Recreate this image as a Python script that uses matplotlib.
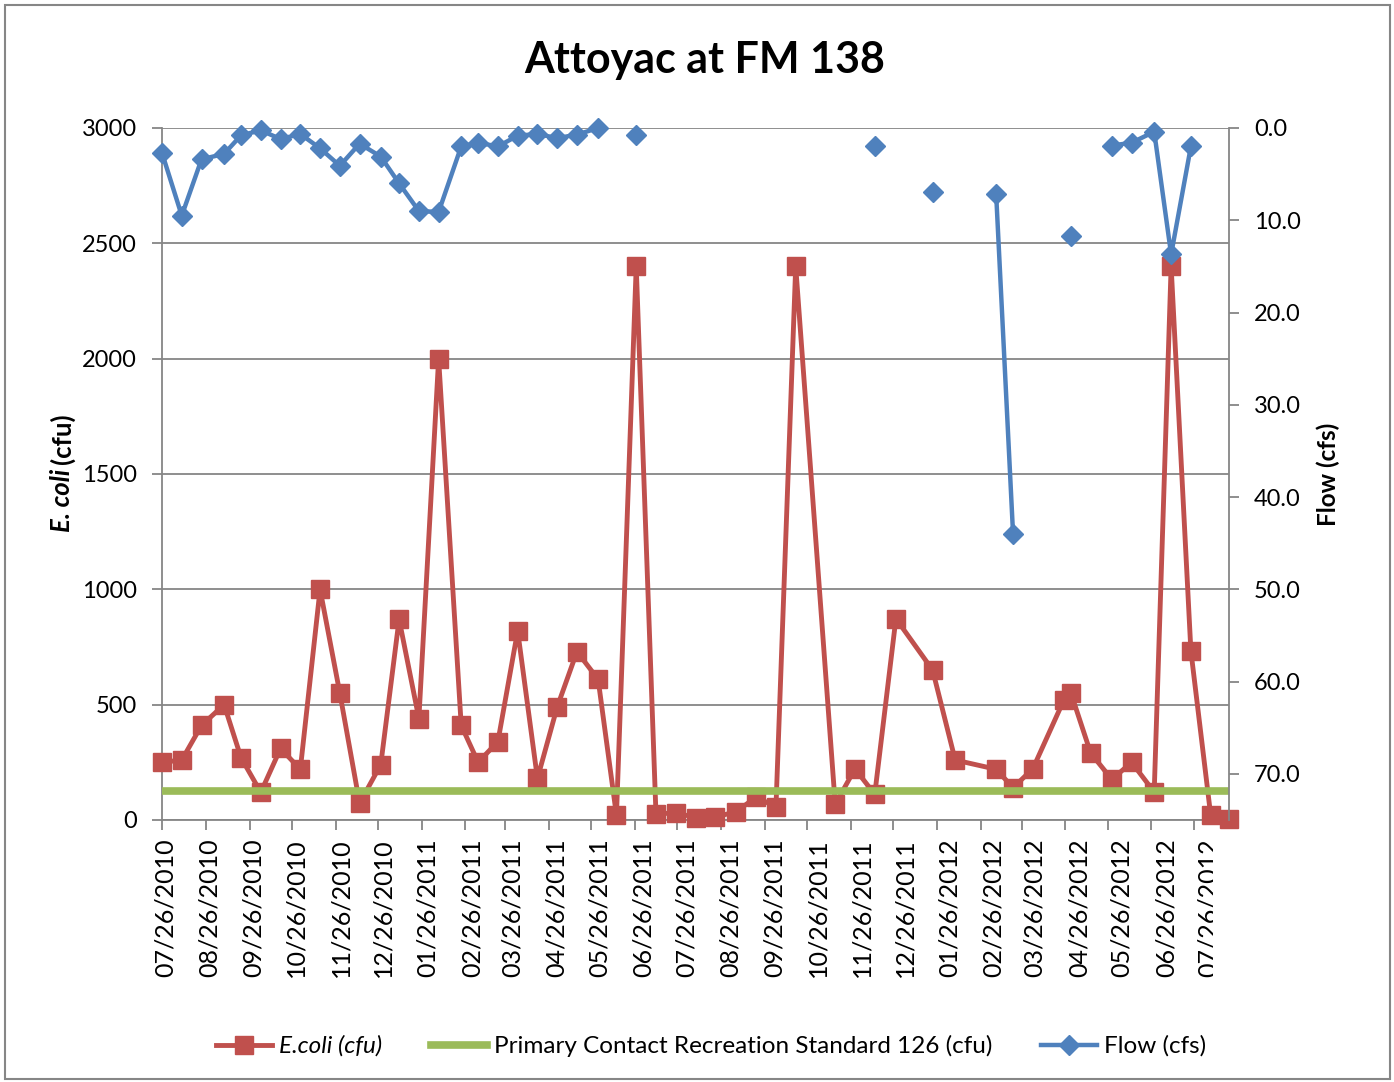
import numpy as np
import matplotlib
matplotlib.use("Agg")
import matplotlib.pyplot as plt
import matplotlib.dates as mdates
from matplotlib.lines import Line2D
from matplotlib.patches import Rectangle
from matplotlib.ticker import FormatStrFormatter
from matplotlib.transforms import Bbox, TransformedBbox, ScaledTranslation
from datetime import datetime

plt.rcParams['font.family'] = ['Lato', 'DejaVu Sans']

# sampling dates
sample_dates = [
    "2010-07-26", "2010-08-09", "2010-08-23", "2010-09-08", "2010-09-20", "2010-10-04",
    "2010-10-18", "2010-11-01", "2010-11-15", "2010-11-29", "2010-12-13", "2010-12-28",
    "2011-01-10", "2011-01-24", "2011-02-07", "2011-02-23", "2011-03-07", "2011-03-21",
    "2011-04-04", "2011-04-18", "2011-05-02", "2011-05-16", "2011-05-31", "2011-06-13",
    "2011-06-27", "2011-07-11", "2011-07-25", "2011-08-08", "2011-08-22", "2011-09-06",
    "2011-09-20", "2011-10-04", "2011-10-18", "2011-11-15", "2011-11-29", "2011-12-13",
    "2011-12-28", "2012-01-23", "2012-02-08", "2012-03-08", "2012-03-20", "2012-04-03",
    "2012-04-25", "2012-04-30", "2012-05-14", "2012-05-29", "2012-06-12", "2012-06-28",
    "2012-07-10", "2012-07-24", "2012-08-07", "2012-08-20",
]

ecoli = [
    250, 260, 410, 500, 270, 120, 310, 220, 1000, 550, 73, 240,
    870, 440, 2000, 410, 250, 340, 820, 180, 490, 730, 610, 20,
    2400, 25, 32, 10, 13, 36, 100, 56, 2400, 68, 222, 111,
    873, 650, 260, 220, 140, 222, 520, 550, 290, 176, 250, 121,
    2400, 733, 22, 5,
]

flow = [
    2.7, 9.5, 3.4, 2.8, 0.8, 0.25, 1.2, 0.65, 2.2, 4.1, 1.7, 3.1,
    6.0, 9.0, 9.1, 2.0, 1.6, 2.0, 0.83, 0.65, 1.1, 0.72, 0.0, None,
    0.72, None, None, None, None, None, None, None, None, None, None, 1.9,
    None, 6.9, None, 7.1, 44.0, None, None, 11.7, None, 1.9, 1.6, 0.4,
    13.7, 2.0, None, None,
]

standard = 126

red = '#C0504D'
green = '#9BBB59'
blue = '#4F81BD'
gray = '#868686'

dates = [datetime.strptime(d, "%Y-%m-%d") for d in sample_dates]
flow_arr = np.array([np.nan if v is None else v for v in flow], dtype=float)

W, H = 1394, 1082
fig = plt.figure(figsize=(W / 100, H / 100), dpi=100)
ax = fig.add_axes([162 / W, 1 - 820 / H, (1229 - 162) / W, 692 / H])
ax2 = ax.twinx()

ax.plot(dates, ecoli, color=red, lw=3.5, marker='s', ms=13.5, zorder=3, clip_on=False)
ax.axhline(standard, color=green, lw=5.5, zorder=4)
ax2.plot(dates, flow_arr, color=blue, lw=3.2, marker='D', ms=10, zorder=5, clip_on=False)

ax.set_xlim(dates[0], dates[-1])
ax.set_ylim(0, 3000)
ax.set_yticks(range(0, 3001, 500))
ax2.set_ylim(75, 0)
ax2.set_yticks(range(0, 71, 10))
ax2.yaxis.set_major_formatter(FormatStrFormatter('%.1f'))

ax.xaxis.set_major_locator(mdates.MonthLocator(bymonthday=26))
ax.xaxis.set_major_formatter(mdates.DateFormatter('%m/%d/%Y'))

ax.yaxis.grid(True, color=gray, lw=1.3)
ax.set_axisbelow(True)

for s in ['top', 'right']:
    ax.spines[s].set_visible(False)
for s in ['top', 'left', 'bottom']:
    ax2.spines[s].set_visible(False)
for s in ['left', 'bottom']:
    ax.spines[s].set_color(gray)
    ax.spines[s].set_linewidth(1.3)
ax2.spines['right'].set_color(gray)
ax2.spines['right'].set_linewidth(1.3)

ax.tick_params(axis='y', direction='out', length=7, width=1.3, color=gray, labelsize=17, pad=11)
ax.tick_params(axis='x', direction='out', length=7, width=1.3, color=gray, labelsize=18,
               pad=6, labelrotation=90)
ax2.tick_params(axis='y', direction='out', length=7, width=1.3, color=gray, labelsize=17, pad=11)

fig.text(705 / W, 1 - 60 / H, 'Attoyac at FM 138', ha='center', va='center',
         fontsize=31, fontweight='bold')

fig.text(62 / W, 1 - 469 / H, 'E. coli', rotation=90, ha='center', va='top',
         fontsize=18.5, fontweight='bold', style='italic')
fig.text(62 / W, 1 - 464 / H, '(cfu)', rotation=90, ha='center', va='bottom',
         fontsize=18.5, fontweight='bold')
fig.text(1328 / W, 1 - 474 / H, 'Flow (cfs)', rotation=90, ha='center', va='center',
         fontsize=17.5, fontweight='bold')

handles = [
    Line2D([], [], color=red, lw=3.5, marker='s', ms=13.5),
    Line2D([], [], color=green, lw=5.5),
    Line2D([], [], color=blue, lw=3.2, marker='D', ms=10),
]
labels = ['E.coli (cfu)', 'Primary Contact Recreation Standard 126 (cfu)', 'Flow (cfs)']
leg = fig.legend(handles, labels, loc='center', bbox_to_anchor=(711 / W, 1 - 1046 / H),
                 ncol=3, frameon=False, fontsize=17.5, handlelength=2.3, handletextpad=0.3,
                 columnspacing=2.0)
leg.get_texts()[0].set_style('italic')

fig.patches.append(Rectangle((5 / W, 3 / H), (1390 - 5) / W, (1077 - 3) / H,
                             transform=fig.transFigure, fill=False, edgecolor=gray, lw=1.5))

# date labels drift slightly right of their ticks in the original,
# and the last one is cut off
fig.canvas.draw()
first = mdates.date2num(datetime(2010, 7, 26))
last = mdates.date2num(datetime(2012, 7, 26))
clip = TransformedBbox(Bbox.from_extents(0, 0, 1213 / W, 1), fig.transFigure)
for t in ax.xaxis.get_major_ticks():
    frac = (t.get_loc() - first) / (last - first)
    dx = (3 + 12 * frac) / 100
    lab = t.label1
    lab.set_transform(lab.get_transform() + ScaledTranslation(dx, 0, fig.dpi_scale_trans))
    lab.set_clip_on(True)
    lab.set_clip_box(clip)

fig.savefig('out.png', dpi=100)
